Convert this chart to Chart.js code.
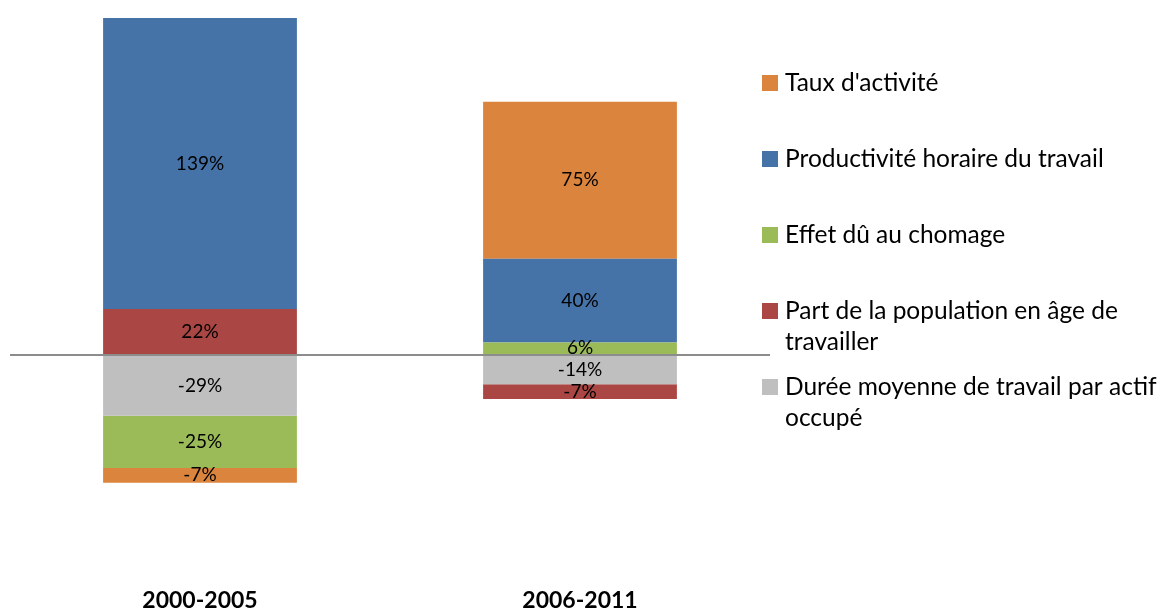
<!DOCTYPE html>
<html>
<head>
<meta charset="utf-8">
<script src="https://cdn.jsdelivr.net/npm/chart.js@4"></script>
<style>
  body { margin: 0; background: #fff; }
  #wrap { width: 1164px; height: 613px; }
</style>
</head>
<body>
<div id="wrap"><canvas id="myChart"></canvas></div>
<script>
const categories = ["2000-2005", "2006-2011"];

// contributions (%) par période
const dureeTravail = [-29, -14];
const partPopulation = [22, -7];
const effetChomage = [-25, 6];
const productivite = [139, 40];
const tauxActivite = [-7, 75];

// libellés de la légende (coupés comme dans l'original)
const legendDuree = ["Durée moyenne de travail par actif", "occupé"];
const legendPart = ["Part de la population en âge de", "travailler"];
const legendEffet = ["Effet dû au chomage"];
const legendProd = ["Productivité horaire du travail"];
const legendTaux = ["Taux d'activité"];

const FONT = "Lato, 'Open Sans', sans-serif";

// valeurs au milieu de chaque segment
const barLabels = {
  id: "barLabels",
  afterDatasetsDraw(chart) {
    const ctx = chart.ctx;
    ctx.save();
    ctx.fillStyle = "#000";
    ctx.font = "19px " + FONT;
    ctx.textAlign = "center";
    ctx.textBaseline = "middle";
    chart.data.datasets.forEach((ds, i) => {
      chart.getDatasetMeta(i).data.forEach((bar, j) => {
        const y = (bar.y + bar.base) / 2;
        ctx.fillText(ds.data[j] + "%", bar.x, y);
      });
    });
    ctx.restore();
  },
};

// légende à droite, ordre inversé comme Excel
const sideLegend = {
  id: "sideLegend",
  afterDraw(chart) {
    const ctx = chart.ctx;
    const boxX = 762;
    const textX = 785;
    let y = 83;
    ctx.save();
    ctx.font = "24.5px " + FONT;
    ctx.textBaseline = "middle";
    ctx.textAlign = "left";
    const items = chart.data.datasets.slice().reverse();
    items.forEach((ds) => {
      ctx.fillStyle = ds.backgroundColor;
      ctx.fillRect(boxX, y - 8, 16, 16);
      ctx.fillStyle = "#000";
      ds.legendLines.forEach((line, k) => {
        ctx.fillText(line, textX, y + k * 31);
      });
      y += 76;
    });
    ctx.restore();
  },
};

const ctx = document.getElementById("myChart").getContext("2d");

const myChart = new Chart(ctx, {
  type: "bar",
  data: {
    labels: categories,
    datasets: [
      { label: legendDuree.join(" "), legendLines: legendDuree, data: dureeTravail, backgroundColor: "#BFBFBF" },
      { label: legendPart.join(" "), legendLines: legendPart, data: partPopulation, backgroundColor: "#AA4643" },
      { label: legendEffet.join(" "), legendLines: legendEffet, data: effetChomage, backgroundColor: "#9BBB59" },
      { label: legendProd.join(" "), legendLines: legendProd, data: productivite, backgroundColor: "#4572A7" },
      { label: legendTaux.join(" "), legendLines: legendTaux, data: tauxActivite, backgroundColor: "#DB843D" },
    ],
  },
  options: {
    responsive: true,
    maintainAspectRatio: false,
    animation: false,
    layout: { padding: { left: 10, right: 394, top: 18, bottom: -1 } },
    datasets: { bar: { categoryPercentage: 0.51, barPercentage: 1 } },
    plugins: {
      legend: { display: false },
      tooltip: { enabled: false },
    },
    scales: {
      x: {
        stacked: true,
        grid: { display: false, drawTicks: false },
        border: { display: false },
        ticks: {
          color: "#000",
          padding: 3,
          font: { family: FONT, size: 23, weight: "bold", lineHeight: 0.9 },
        },
      },
      y: {
        stacked: true,
        min: -111,
        max: 161,
        z: 1,
        ticks: { display: false },
        border: { display: false },
        grid: {
          drawTicks: false,
          lineWidth: 2,
          color: (c) => (c.tick && c.tick.value === 0 ? "#8C8C8C" : "rgba(0,0,0,0)"),
        },
      },
    },
  },
  plugins: [barLabels, sideLegend],
});
</script>
</body>
</html>
